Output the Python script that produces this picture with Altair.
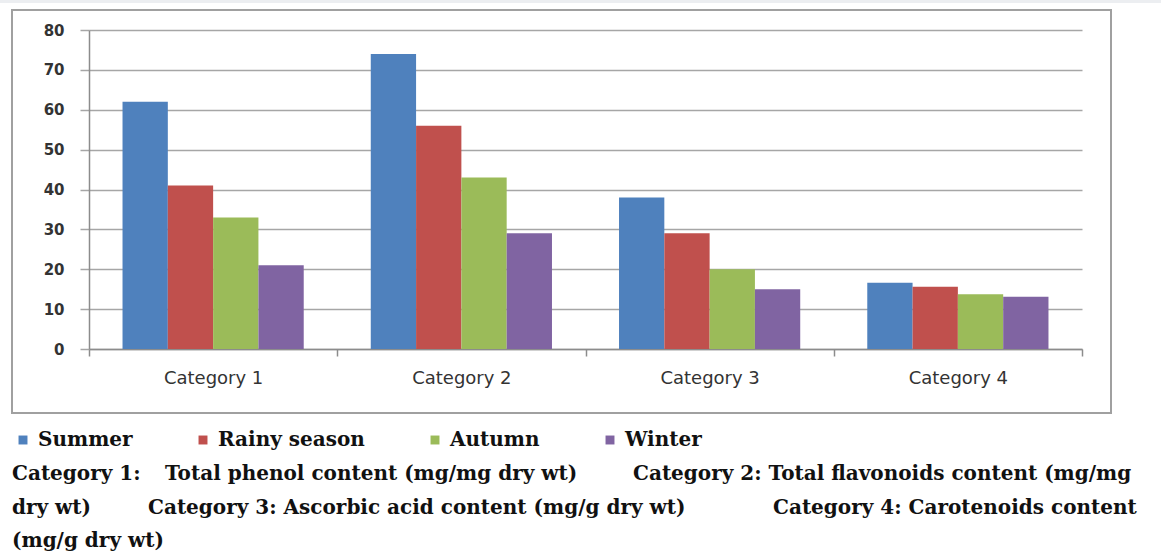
import altair as alt
import pandas as pd

categories = ["Category 1", "Category 2", "Category 3", "Category 4"]
seasons = ["Summer", "Rainy season", "Autumn", "Winter"]
summer = [62, 74, 38, 16.6]
rainy = [41, 56, 29, 15.6]
autumn = [33, 43, 20, 13.7]
winter = [21, 29, 15, 13.1]
colors = ["#4F81BD", "#C0504D", "#9BBB59", "#8064A2"]
y_ticks = [0, 10, 20, 30, 40, 50, 60, 70, 80]

note_segments = [
    ["Category 1:", "Total phenol content (mg/mg dry wt)", "Category 2: Total flavonoids content (mg/mg"],
    ["dry wt)", "Category 3: Ascorbic acid content (mg/g dry wt)", "Category 4:  Carotenoids content"],
    ["(mg/g dry wt)"],
]

rows = []
for series_name, vals in zip(seasons, [summer, rainy, autumn, winter]):
    for cat, v in zip(categories, vals):
        rows.append({"category": cat, "season": series_name, "value": v})
df = pd.DataFrame(rows)

SERIF = "DejaVu Serif"
SANS = "DejaVu Sans"

bars = alt.Chart(df).mark_bar().encode(
    x=alt.X("category:N", sort=categories, title=None,
            scale=alt.Scale(paddingInner=0, paddingOuter=0),
            axis=alt.Axis(labelAngle=0, tickBand="extent", tickSize=7,
                          tickColor="#8c8c8c", tickWidth=1.5,
                          domainColor="#8c8c8c", domainWidth=1.5,
                          labelFont=SANS, labelFontSize=18, labelColor="#333333",
                          labelPadding=13, grid=False)),
    xOffset=alt.XOffset("season:N", sort=seasons,
                        scale=alt.Scale(paddingInner=0, paddingOuter=0.74)),
    y=alt.Y("value:Q", title=None,
            scale=alt.Scale(domain=[0, 80], nice=False),
            axis=alt.Axis(values=y_ticks, grid=True, gridColor="#a6a6a6", gridWidth=1.5,
                          tickSize=9, tickColor="#a6a6a6", tickWidth=1.5,
                          domainColor="#8c8c8c", domainWidth=1.5,
                          labelFont=SANS, labelFontSize=15, labelFontWeight="bold",
                          labelColor="#333333", labelPadding=16)),
    color=alt.Color("season:N", sort=seasons,
                    scale=alt.Scale(domain=seasons, range=colors),
                    legend=alt.Legend(title=None, orient="none", legendX=-76, legendY=400,
                                      direction="horizontal", symbolType="square",
                                      symbolSize=80, symbolStrokeWidth=0,
                                      labelFont=SERIF, labelFontSize=20,
                                      labelFontWeight="bold", labelColor="#111111",
                                      labelOffset=5, columnPadding=60)),
)

one = alt.Data(values=[{}])

top_strip = alt.Chart(one).mark_rect(color="#eceef1").encode(
    x=alt.value(-89), x2=alt.value(1072), y=alt.value(-30), y2=alt.value(-27))

border = alt.Chart(one).mark_rect(filled=False, stroke="#a0a0a0", strokeWidth=2).encode(
    x=alt.value(-77), x2=alt.value(1022), y=alt.value(-20), y2=alt.value(383))

seg_x = [[-77, 76, 544], [-77, 59, 684], [-77]]
line_y = [444, 478, 511]

texts = []
for segs, xs, yy in zip(note_segments, seg_x, line_y):
    for s, xx in zip(segs, xs):
        texts.append(
            alt.Chart(one).mark_text(text=s, align="left", baseline="middle",
                                     font=SERIF, fontSize=20, fontWeight="bold",
                                     color="#111111").encode(
                x=alt.value(xx), y=alt.value(yy))
        )

chart = alt.layer(top_strip, border, bars, *texts).properties(
    width=993, height=319,
    autosize=alt.AutoSizeParams(type="none"),
    padding={"left": 89, "top": 30, "right": 79, "bottom": 205},
    background="white",
).configure_view(stroke=None)

chart.save("out.html", embed_options={"renderer": "svg", "actions": False})
